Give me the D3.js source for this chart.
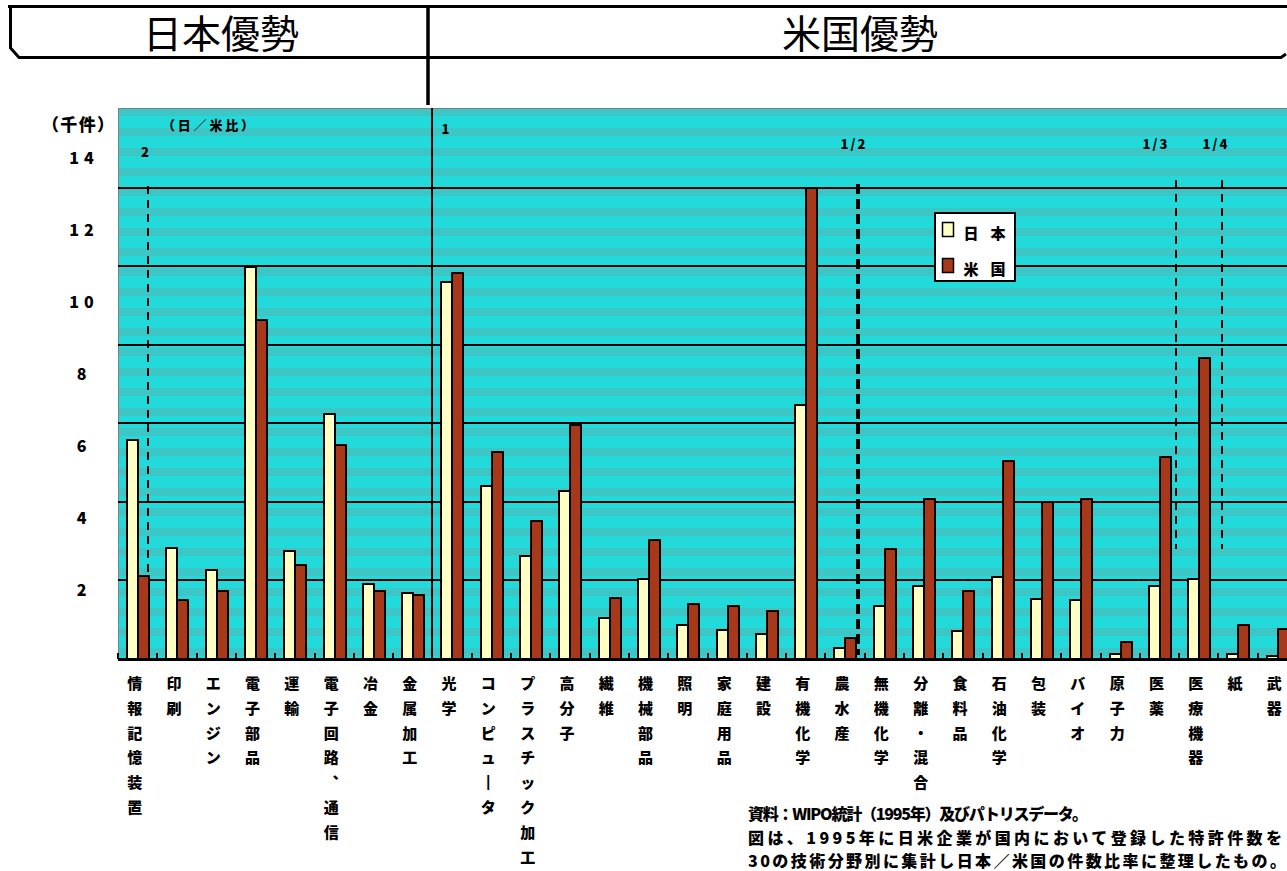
<!DOCTYPE html>
<html>
<head>
<meta charset="utf-8">
<script src="https://cdn.jsdelivr.net/npm/d3@7"></script>
<style>
  body { margin: 0; background: #fff; }
  svg { display: block; }
  text { font-family: "Noto Sans CJK JP", "Noto Sans CJK SC", sans-serif; fill: #000; }
</style>
</head>
<body>
<svg id="chart" width="1287" height="871"></svg>
<script>
// 30 technology fields, patents granted in 1995 (thousands)
const categories = [
  "情報記憶装置", "印刷", "エンジン", "電子部品", "運輸", "電子回路、通信", "冶金", "金属加工",
  "光学", "コンピュータ", "プラスチック加工", "高分子", "繊維", "機械部品", "照明", "家庭用品",
  "建設", "有機化学", "農水産", "無機化学", "分離・混合", "食料品", "石油化学", "包装",
  "バイオ", "原子力", "医薬", "医療機器", "紙", "武器"
];
const japanValues = [
  5.57, 2.82, 2.26, 9.97, 2.75, 6.23, 1.91, 1.68,
  9.59, 4.40, 2.62, 4.27, 1.04, 2.04, 0.87, 0.74,
  0.64, 6.46, 0.28, 1.35, 1.86, 0.71, 2.09, 1.53,
  1.50, 0.13, 1.86, 2.04, 0.13, 0.08
];
const usValues = [
  2.11, 1.50, 1.73, 8.63, 2.39, 5.45, 1.73, 1.63,
  9.82, 5.27, 3.51, 5.95, 1.55, 3.03, 1.40, 1.35,
  1.22, 11.98, 0.53, 2.80, 4.07, 1.73, 5.04, 3.99,
  4.07, 0.43, 5.14, 7.66, 0.87, 0.76
];
const seriesNames = ["日本", "米国"];
const gridValues = [2, 4, 6, 8, 10, 12];
const tickLabels = ["14", "12", "10", "8", "6", "4", "2"];

// Japan/US ratio markers: where along the field axis each ratio falls
const ratioLabels = ["2", "1", "1/2", "1/3", "1/4"];
const ratioAt = [0.76, 8, 18.83, 26.92, 28.09];
const ratioFrom = [12.05, 14, 12.1, 12.2, 12.2];
const ratioTo = [2.1, 0, 0.1, 2.8, 2.8];

const headerLabels = ["日本優勢", "米国優勢"];
const noteLines = [
  "資料：WIPO統計（1995年）及びパトリスデータ。",
  "図は、1995年に日米企業が国内において登録した特許件数を",
  "30の技術分野別に集計し日本／米国の件数比率に整理したもの。"
];

const svg = d3.select("#chart");
const defs = svg.append("defs");

const plotLeft = 118, step = 39.3, plotRight = plotLeft + categories.length * step;
const plotTop = 108, plotBase = 659;

const x = d3.scaleBand().domain(categories).range([plotLeft, plotRight]).padding(0);
const xPos = d3.scaleLinear().domain([0, categories.length]).range([plotLeft, plotRight]);
const y = d3.scaleLinear().domain([0, 14]).range([plotBase, 109]);
const sub = d3.scaleBand().domain(["jp", "us"]).range([9, 31]).padding(0);
const labelY = d3.scalePoint().domain(tickLabels).range([158, 590]);

// banded teal fill for the plot area
const bands = defs.append("pattern").attr("id", "plotBands")
  .attr("patternUnits", "userSpaceOnUse").attr("x", 0).attr("y", plotTop)
  .attr("width", 20).attr("height", 20);
bands.append("rect").attr("width", 20).attr("height", 20).attr("fill", "#22dada");
bands.append("rect").attr("y", 0).attr("width", 20).attr("height", 8).attr("fill", "#3cc6c6");

const seriesFill = { jp: "#ffffc4", us: "#a8381a" };

const g = svg.append("g").attr("shape-rendering", "crispEdges");

// plot background
g.append("rect").attr("x", plotLeft).attr("y", plotTop).attr("width", 1287 - plotLeft).attr("height", plotBase - plotTop)
  .attr("fill", "url(#plotBands)");
g.append("path").attr("d", `M${plotLeft + 0.5},${plotBase}V${plotTop + 0.5}H1287`)
  .attr("fill", "none").attr("stroke", "#808080").attr("stroke-width", 1);

// horizontal grid
g.selectAll("line.grid").data(gridValues).join("line").attr("class", "grid")
  .attr("x1", plotLeft).attr("x2", 1287)
  .attr("y1", d => Math.round(y(d))).attr("y2", d => Math.round(y(d)))
  .attr("stroke", "#000").attr("stroke-width", 2);

// bars
const seriesData = [
  { key: "jp", values: japanValues },
  { key: "us", values: usValues }
];
seriesData.forEach(s => {
  g.selectAll(`rect.bar-${s.key}`).data(categories).join("rect").attr("class", `bar-${s.key}`)
    .attr("x", d => Math.round(x(d) + sub(s.key)))
    .attr("width", Math.round(sub.bandwidth()))
    .attr("y", (d, i) => Math.round(y(s.values[i])))
    .attr("height", (d, i) => plotBase - Math.round(y(s.values[i])))
    .attr("fill", seriesFill[s.key]).attr("stroke", "#000").attr("stroke-width", 1.5);
});

// ratio guide lines
const ratioStyle = [
  { w: 2, dash: "8,6" },
  { w: 2, dash: null },
  { w: 3.5, dash: "10,5" },
  { w: 2, dash: "8,6" },
  { w: 2, dash: "8,6" }
];
ratioLabels.forEach((lab, i) => {
  const xx = Math.round(xPos(ratioAt[i]));
  g.append("line").attr("x1", xx).attr("x2", xx)
    .attr("y1", i === 1 ? plotTop : y(ratioFrom[i])).attr("y2", y(ratioTo[i]))
    .attr("stroke", "#000").attr("stroke-width", ratioStyle[i].w)
    .attr("stroke-dasharray", ratioStyle[i].dash);
});
const ratioText = [
  { dx: -2, y: 157 }, { dx: 14, y: 134 }, { dx: -4, y: 149 }, { dx: -20, y: 149 }, { dx: -6, y: 149 }
];
svg.selectAll("text.ratio").data(ratioLabels).join("text").attr("class", "ratio")
  .attr("x", (d, i) => xPos(ratioAt[i]) + ratioText[i].dx)
  .attr("y", (d, i) => ratioText[i].y)
  .attr("text-anchor", "middle").attr("font-size", 13).attr("font-weight", 900)
  .attr("letter-spacing", 2)
  .text(d => d);
svg.append("text").attr("x", 162).attr("y", 130).attr("font-size", 13).attr("font-weight", 900)
  .attr("textLength", 92).attr("lengthAdjust", "spacing").text("（日／米比）");

// baseline with field ticks
g.append("line").attr("x1", plotLeft).attr("x2", 1287).attr("y1", plotBase + 0.5).attr("y2", plotBase + 0.5)
  .attr("stroke", "#000").attr("stroke-width", 3);
g.selectAll("line.tick").data(d3.range(categories.length + 1)).join("line").attr("class", "tick")
  .attr("x1", d => Math.round(xPos(d))).attr("x2", d => Math.round(xPos(d)))
  .attr("y1", plotBase).attr("y2", plotBase - 6).attr("stroke", "#000").attr("stroke-width", 2);

// value axis labels
svg.selectAll("text.ytick").data(tickLabels).join("text").attr("class", "ytick")
  .attr("x", 84).attr("y", d => labelY(d) + 6)
  .attr("text-anchor", "middle").attr("font-size", 16).attr("font-weight", 900)
  .attr("letter-spacing", 5)
  .text(d => d);
svg.append("text").attr("x", 42).attr("y", 131).attr("font-size", 17).attr("font-weight", 900)
  .attr("textLength", 72).attr("lengthAdjust", "spacing").text("（千件）");

// field names, written top to bottom
const verticalForm = { "ー": "┃", "、": "︑" };
svg.selectAll("text.field").data(categories).join("text").attr("class", "field")
  .attr("font-size", 15).attr("font-weight", 900).attr("text-anchor", "middle")
  .each(function (d) {
    const t = d3.select(this);
    const cx = x(d) + x.bandwidth() / 2 - 3;
    Array.from(d).forEach((ch, k) => {
      t.append("tspan").attr("x", cx).attr("y", 689 + k * 24.8).text(verticalForm[ch] || ch);
    });
  });

// legend
const lg = svg.append("g").attr("transform", "translate(935,213)");
lg.append("rect").attr("x", 0).attr("y", 0).attr("width", 80).attr("height", 68)
  .attr("fill", "#fff").attr("stroke", "#000").attr("stroke-width", 2);
seriesNames.forEach((name, i) => {
  const row = lg.append("g").attr("transform", `translate(0,${i * 36})`);
  row.append("rect").attr("x", 7.5).attr("y", 9.5).attr("width", 11).attr("height", 14)
    .attr("fill", seriesFill[seriesData[i].key]).attr("stroke", "#000").attr("stroke-width", 1.5);
  Array.from(name).forEach((ch, k) => {
    row.append("text").attr("x", 36 + k * 27).attr("y", 26).attr("text-anchor", "middle")
      .attr("font-size", 15).attr("font-weight", 900).text(ch);
  });
});

// header band
const hd = svg.append("g");
hd.append("path").attr("d", "M8,6.5H1287").attr("stroke", "#000").attr("stroke-width", 3).attr("fill", "none");
hd.append("path").attr("d", "M10.5,8V48L19,57.5H1281L1286,54")
  .attr("stroke", "#000").attr("stroke-width", 3).attr("fill", "none");
hd.append("path").attr("d", "M428,5V105").attr("stroke", "#000").attr("stroke-width", 3.5);
const headerX = [221, 860];
hd.selectAll("text").data(headerLabels).join("text")
  .attr("x", (d, i) => headerX[i]).attr("y", 48).attr("text-anchor", "middle")
  .attr("font-size", 39).attr("font-weight", 400).text(d => d);

// source note
const noteWidth = [340, 534, 538];
svg.selectAll("text.note").data(noteLines).join("text").attr("class", "note")
  .attr("x", 748).attr("y", (d, i) => 820 + i * 23.5)
  .attr("font-size", 16).attr("font-weight", 900)
  .attr("textLength", (d, i) => noteWidth[i]).attr("lengthAdjust", "spacing")
  .text(d => d);
</script>
</body>
</html>
